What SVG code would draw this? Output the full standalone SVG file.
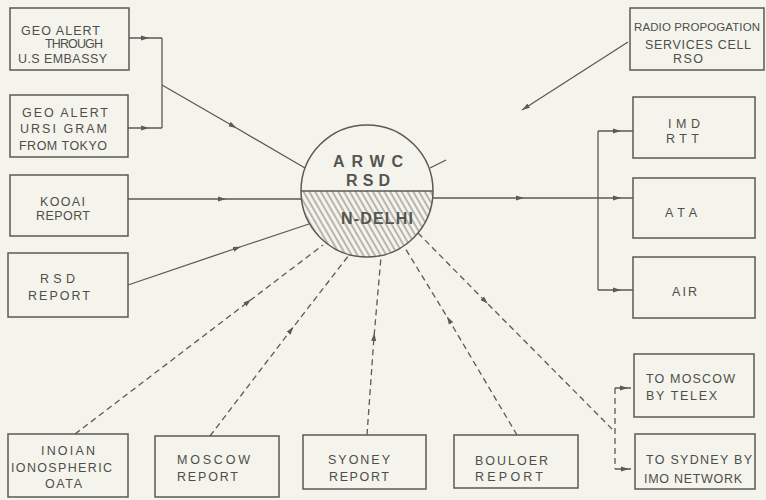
<svg xmlns="http://www.w3.org/2000/svg" width="766" height="500" viewBox="0 0 766 500">
<defs>
<style>
.bx{fill:none;stroke:#5a5a56;stroke-width:1.5}
.t{font-family:"Liberation Sans",Arial,sans-serif;font-size:12.5px;fill:#4e4e4a}
.ct{font-family:"Liberation Sans",Arial,sans-serif;font-size:16px;font-weight:bold;fill:#555551}
.ln{fill:none;stroke:#5a5a56;stroke-width:1.3}
.ds{fill:none;stroke:#5a5a56;stroke-width:1.3;stroke-dasharray:6 4}
.ar{marker-mid:url(#a)}
</style>
<marker id="a" viewBox="0 0 8 6" refX="4" refY="3" markerWidth="8" markerHeight="6" orient="auto" markerUnits="userSpaceOnUse"><path d="M0,0.5 L8,3 L0,5.5 Z" fill="#5a5a56"/></marker>
<marker id="e" viewBox="0 0 8 6" refX="8" refY="3" markerWidth="8" markerHeight="6" orient="auto" markerUnits="userSpaceOnUse"><path d="M0,0.5 L8,3 L0,5.5 Z" fill="#5a5a56"/></marker>
<pattern id="h" width="5" height="10" patternUnits="userSpaceOnUse" patternTransform="rotate(-30)"><line x1="2" y1="0" x2="2" y2="10" stroke="#6a6a66" stroke-width="0.9"/></pattern>
<clipPath id="lower"><path d="M301,191 A66,66 0 0 0 433,191 Z"/></clipPath>
</defs>
<rect width="766" height="500" fill="#f4f4ec"/>

<g id="connectors">
<path class="ln ar" d="M129,38 L145,38 L162,38"/>
<path class="ln ar" d="M128,128 L145,128 L162,128"/>
<path class="ln" d="M162,38 L162,128"/>
<path class="ln ar" d="M162,85 L233,126 L305,168"/>
<path class="ln ar" d="M128,199 L222,199 L302,199"/>
<path class="ln ar" d="M128,285 L237,248 L309,224"/>
<path class="ln ar" d="M433,198 L520,198 L598,198"/>
<path class="ln ar" d="M598,198 L617,198 L633,198"/>
<path class="ln" d="M598,131 L598,290"/>
<path class="ln ar" d="M598,131 L617,131 L633,131"/>
<path class="ln ar" d="M598,290 L617,290 L633,290"/>
<path class="ln" d="M628,42 L522,110" marker-end="url(#e)"/>
<path class="ln" d="M430,168 L446,160"/>
<path class="ds ar" d="M75,434 L248,302 L323,245"/>
<path class="ds ar" d="M210,436 L291,330 L349,255"/>
<path class="ds ar" d="M367,435 L374,337 L381,257"/>
<path class="ds ar" d="M517,435 L449,320 L405,248"/>
<path class="ds ar" d="M418,233 L485,301 L615,432"/>
<path class="ds" d="M615,388 L615,469"/>
<path class="ds ar" d="M615,388 L624,388 L634,388"/>
<path class="ds ar" d="M615,469 L625,469 L635,469"/>
</g>

<g id="hub">
<circle cx="367" cy="191" r="66" fill="#f4f4ec"/>
<rect x="300" y="191" width="134" height="67" fill="url(#h)" clip-path="url(#lower)"/>
<circle cx="367" cy="191" r="66" fill="none" stroke="#5a5a56" stroke-width="1.5"/>
<line x1="301" y1="191" x2="433" y2="191" stroke="#5a5a56" stroke-width="1.5"/>
<text class="ct" x="333" y="167" textLength="70" lengthAdjust="spacing">ARWC</text>
<text class="ct" x="346" y="186" textLength="44" lengthAdjust="spacing">RSD</text>
<text class="ct" x="341" y="224" textLength="72" lengthAdjust="spacing">N-DELHI</text>
</g>

<g id="geo-embassy">
<rect class="bx" x="10" y="8" width="119" height="62"/>
<text class="t" x="21" y="35" textLength="79" lengthAdjust="spacing">GEO ALERT</text>
<text class="t" x="45" y="48" textLength="58" lengthAdjust="spacing">THROUGH</text>
<text class="t" x="18" y="63" textLength="89" lengthAdjust="spacing">U.S EMBASSY</text>
</g>

<g id="geo-ursi">
<rect class="bx" x="10" y="95" width="118" height="62"/>
<text class="t" x="22" y="117" textLength="86" lengthAdjust="spacing">GEO ALERT</text>
<text class="t" x="20" y="133" textLength="87" lengthAdjust="spacing">URSI GRAM</text>
<text class="t" x="19" y="150" textLength="88" lengthAdjust="spacing">FROM TOKYO</text>
</g>

<g id="kooai">
<rect class="bx" x="10" y="175" width="118" height="61"/>
<text class="t" x="40" y="206" textLength="45" lengthAdjust="spacing">KOOAI</text>
<text class="t" x="36" y="220" textLength="54" lengthAdjust="spacing">REPORT</text>
</g>

<g id="rsd">
<rect class="bx" x="8" y="253" width="120" height="64"/>
<text class="t" x="40" y="283" textLength="35" lengthAdjust="spacing">RSD</text>
<text class="t" x="28" y="300" textLength="62" lengthAdjust="spacing">REPORT</text>
</g>

<g id="indian">
<rect class="bx" x="8" y="434" width="120" height="63"/>
<text class="t" x="41" y="455" textLength="54" lengthAdjust="spacing">INOIAN</text>
<text class="t" x="11" y="472" textLength="101" lengthAdjust="spacing">IONOSPHERIC</text>
<text class="t" x="45" y="488" textLength="37" lengthAdjust="spacing">OATA</text>
</g>

<g id="moscow">
<rect class="bx" x="155" y="436" width="124" height="61"/>
<text class="t" x="177" y="464" textLength="73" lengthAdjust="spacing">MOSCOW</text>
<text class="t" x="177" y="481" textLength="61" lengthAdjust="spacing">REPORT</text>
</g>

<g id="sydney">
<rect class="bx" x="303" y="435" width="123" height="54"/>
<text class="t" x="328" y="464" textLength="62" lengthAdjust="spacing">SYONEY</text>
<text class="t" x="329" y="481" textLength="60" lengthAdjust="spacing">REPORT</text>
</g>

<g id="boulder">
<rect class="bx" x="454" y="435" width="124" height="53"/>
<text class="t" x="475" y="465" textLength="73" lengthAdjust="spacing">BOULOER</text>
<text class="t" x="475" y="481" textLength="68" lengthAdjust="spacing">REPORT</text>
</g>

<g id="radio">
<rect class="bx" x="630" y="8" width="134" height="62"/>
<text class="t" x="634" y="31" style="font-size:11.5px" textLength="126" lengthAdjust="spacing">RADIO PROPOGATION</text>
<text class="t" x="645" y="49" textLength="106" lengthAdjust="spacing">SERVICES CELL</text>
<text class="t" x="673" y="63" textLength="30" lengthAdjust="spacing">RSO</text>
</g>

<g id="imd">
<rect class="bx" x="633" y="97" width="122" height="61"/>
<text class="t" x="668" y="128" textLength="32" lengthAdjust="spacing">IMD</text>
<text class="t" x="666" y="143" textLength="33" lengthAdjust="spacing">RTT</text>
</g>

<g id="ata">
<rect class="bx" x="633" y="178" width="122" height="60"/>
<text class="t" x="665" y="217" textLength="32" lengthAdjust="spacing">ATA</text>
</g>

<g id="air">
<rect class="bx" x="633" y="257" width="122" height="61"/>
<text class="t" x="672" y="296" textLength="25" lengthAdjust="spacing">AIR</text>
</g>

<g id="to-moscow">
<rect class="bx" x="634" y="354" width="120" height="63"/>
<text class="t" x="646" y="383" textLength="89" lengthAdjust="spacing">TO MOSCOW</text>
<text class="t" x="646" y="400" textLength="71" lengthAdjust="spacing">BY TELEX</text>
</g>

<g id="to-sydney">
<rect class="bx" x="635" y="434" width="120" height="55"/>
<text class="t" x="646" y="464" textLength="106" lengthAdjust="spacing">TO SYDNEY BY</text>
<text class="t" x="644" y="483" textLength="98" lengthAdjust="spacing">IMO NETWORK</text>
</g>
</svg>
